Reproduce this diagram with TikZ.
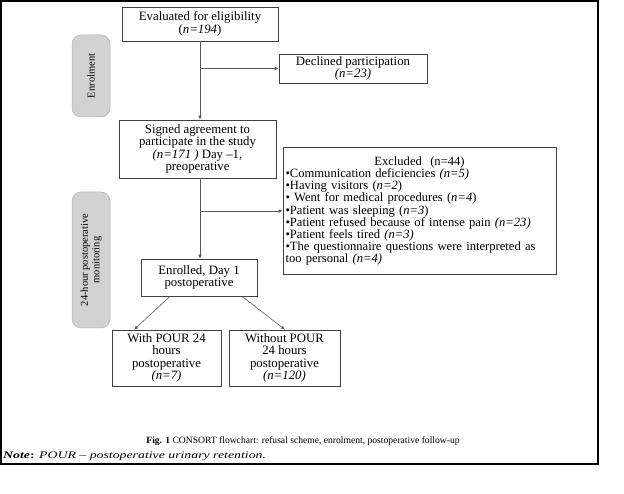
\documentclass[tikz,border=0pt]{standalone}
\usepackage{fontspec}
\setmainfont{Liberation Serif}
\usetikzlibrary{arrows.meta,positioning}
\begin{document}
\begin{tikzpicture}[x=1pt,y=-1pt,
  box/.style={draw=black!75,line width=0.6pt,inner sep=1pt,align=center,font=\fontsize{12.8}{12.6}\selectfont},
  pill/.style={draw=gray!60,fill=gray!35,rounded corners=9pt,line width=0.5pt,inner sep=0pt,align=center},
  pilltext/.style={rotate=90,align=center,font=\fontsize{10.5}{11.5}\selectfont},
  arr/.style={draw=black!65,line width=0.6pt,-{Latex[length=4pt,width=3.5pt]}}]
\useasboundingbox (0,0) rectangle (624,494);
\draw[line width=1.1pt] (1,1) rectangle (598,464);
\node[box,minimum width=156pt,minimum height=34pt] (eval) at (200,24) {Evaluated for eligibility\\(\textit{n=194})};
\node[box,minimum width=148pt,minimum height=29pt] (decl) at (353,68.5) {Declined participation\\\textit{(n=23)}};
\node[box,minimum width=157pt,minimum height=58pt] (signed) at (197.5,149) {Signed agreement to\\participate in the study\\\textit{(n=171 )} Day –1,\\preoperative};
\node[box,minimum width=273pt,minimum height=127pt,text width=268pt,align=left,font=\fontsize{12.6}{12.2}\selectfont] (excl) at (419.5,211) {\hbox to \linewidth{\hfil Excluded\ \ (n=44)\hfil}\\
•Communication deficiencies \textit{(n=5)}\\
•Having visitors (\textit{n=2})\\
• Went for medical procedures (\textit{n=4})\\
•Patient was sleeping (\textit{n=3})\\
•Patient refused because of intense pain \textit{(n=23)}\\
•Patient feels tired \textit{(n=3)}\\
•The questionnaire questions were interpreted as\\
too personal \textit{(n=4)}};
\node[box,minimum width=116pt,minimum height=37pt] (enr) at (199,277.5) {Enrolled, Day 1\\postoperative};
\node[box,minimum width=109pt,minimum height=56pt] (with) at (166.5,358) {With POUR 24\\hours\\postoperative\\\textit{(n=7)}};
\node[box,minimum width=111pt,minimum height=56pt] (without) at (284.5,358) {Without POUR\\24 hours\\postoperative\\\textit{(n=120)}};
\node[pill,minimum width=38pt,minimum height=82pt] (p1) at (91,76) {};
\node[pilltext] (p1t) at (p1.center) {Enrolment};
\node[pill,minimum width=38pt,minimum height=136pt] (p2) at (91,260) {};
\node[pilltext] (p2t) at (p2.center) {24-hour postoperative\\monitoring};
\draw[arr] (eval.south) -- (eval.south |- signed.north);
\draw[arr] (eval.south |- decl.west) -- (decl.west);
\coordinate (s1) at (eval.south |- signed.south);
\draw[arr] (s1) -- (s1 |- enr.north);
\draw[arr] (s1 |- excl.west) -- (excl.west);
\draw[arr] ([xshift=-29pt]enr.south) -- ([xshift=-32.5pt]with.north);
\draw[arr] ([xshift=43pt]enr.south) -- ([xshift=0.5pt]without.north);
\node[font=\fontsize{9.6}{12}\selectfont] (cap) at (303,441) {\textbf{Fig. 1} CONSORT flowchart: refusal scheme, enrolment, postoperative follow-up};
\node[anchor=west,inner sep=0pt,font=\fontsize{10}{12}\selectfont] (note) at (3,456) {\scalebox{1.38}[1]{\textbf{\textit{Note}:} \textit{POUR – postoperative urinary retention.}}};
\end{tikzpicture}
\end{document}
